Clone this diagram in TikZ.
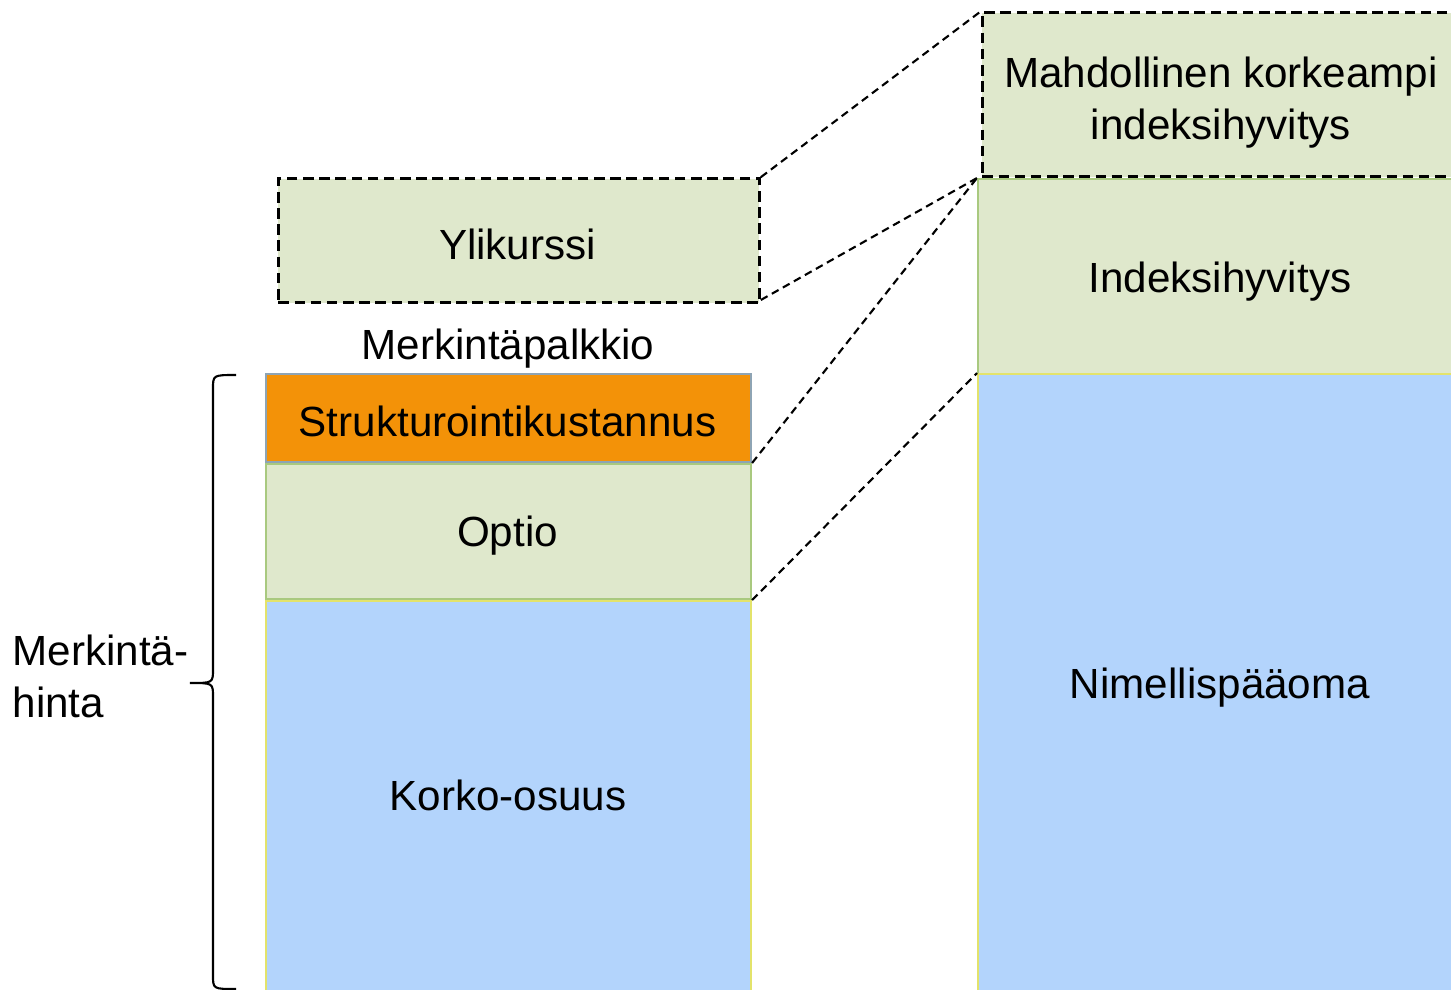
\documentclass[tikz,border=0pt]{standalone}
\usepackage{fontspec}
\setmainfont{Liberation Sans}
\usetikzlibrary{positioning}
\definecolor{palegreen}{HTML}{DFE8CC}
\definecolor{greenedge}{HTML}{A9C97F}
\definecolor{boxorange}{HTML}{F39208}
\definecolor{orangeedge}{HTML}{8EA4B4}
\definecolor{paleblue}{HTML}{B3D4FC}
\definecolor{blueedge}{HTML}{E3E36B}
\tikzset{
  part/.style={rectangle,inner sep=0pt,font=\fontsize{12}{14.8}\selectfont,align=center},
  greenpart/.style={part,fill=palegreen,draw=greenedge,line width=0.6pt},
  bluepart/.style={part,fill=paleblue,draw=blueedge,line width=0.6pt},
  extrapart/.style={part,fill=palegreen,draw=black,line width=0.8pt,dash pattern=on 3pt off 1.6pt},
  link/.style={draw=black,line width=0.6pt,dash pattern=on 2.2pt off 1.4pt}
}
\begin{document}
\begin{tikzpicture}
  \clip (0,0) rectangle (14.51,9.89);
  \fill[white] (0,0) rectangle (14.51,9.89);

  % left column
  \node[part,fill=boxorange,draw=orangeedge,line width=0.6pt,minimum width=4.85cm,minimum height=0.88cm,anchor=south west] (struk) at (2.65,5.26) {};
  \node[greenpart,minimum width=4.85cm,minimum height=1.35cm,below=0pt of struk] (optio) {};
  \node[bluepart,minimum width=4.85cm,minimum height=4.0cm,below=0pt of optio] (korko) {};
  \node[extrapart,minimum width=4.81cm,minimum height=1.24cm,anchor=south west] (ylik) at (2.77,6.85) {};

  \node[part] (struktxt) at (5.075,5.68) {Strukturointikustannus};
  \node[part] (optiotxt) at (5.075,4.535) {Optio};
  \node[part] (korkotxt) at (5.08,1.94) {Korko-osuus};
  \node[part] (ylikurssitxt) at (5.175,7.45) {Ylikurssi};
  \node[part] (palkkio) at (5.08,6.40) {Merkintäpalkkio};

  % right column
  \node[extrapart,minimum width=4.9cm,minimum height=1.64cm,anchor=south west] (mahd) at (9.81,8.11) {};
  \node[greenpart,minimum width=4.95cm,minimum height=1.95cm,anchor=north west] (indeksi) at (9.77,8.11) {};
  \node[bluepart,minimum width=4.95cm,minimum height=6.3cm,anchor=north west] (nimellis) at (9.77,6.16) {};

  \node[part] (mahdtxt) at (12.21,8.86) {Mahdollinen korkeampi\\indeksihyvitys};
  \node[part] (indeksitxt) at (12.2,7.07) {Indeksihyvitys};
  \node[part] (nimellistxt) at (12.2,3.01) {Nimellispääoma};

  % brace
  \coordinate (bracet) at (2.36,6.14);
  \coordinate (braceb) at (2.36,0.0);
  \draw[line width=0.6pt] (bracet) .. controls (2.13,6.14) .. (2.13,6.0) -- (2.13,3.2)
    .. controls (2.13,3.06) .. (1.90,3.06) .. controls (2.13,3.06) .. (2.13,2.92)
    -- (2.13,0.14) .. controls (2.13,0.0) .. (braceb);
  \node[part,align=left,anchor=west] (hinta) at (0.12,3.13) {Merkintä-\\hinta};

  % dashed connectors
  \draw[link] (ylik.north east) -- (mahd.north west);
  \draw[link] ([yshift=0.04cm]ylik.south east) -- (indeksi.north west);
  \draw[link] (struk.south east) -- (indeksi.north west);
  \draw[link] (optio.south east) -- (nimellis.north west);
\end{tikzpicture}
\end{document}
